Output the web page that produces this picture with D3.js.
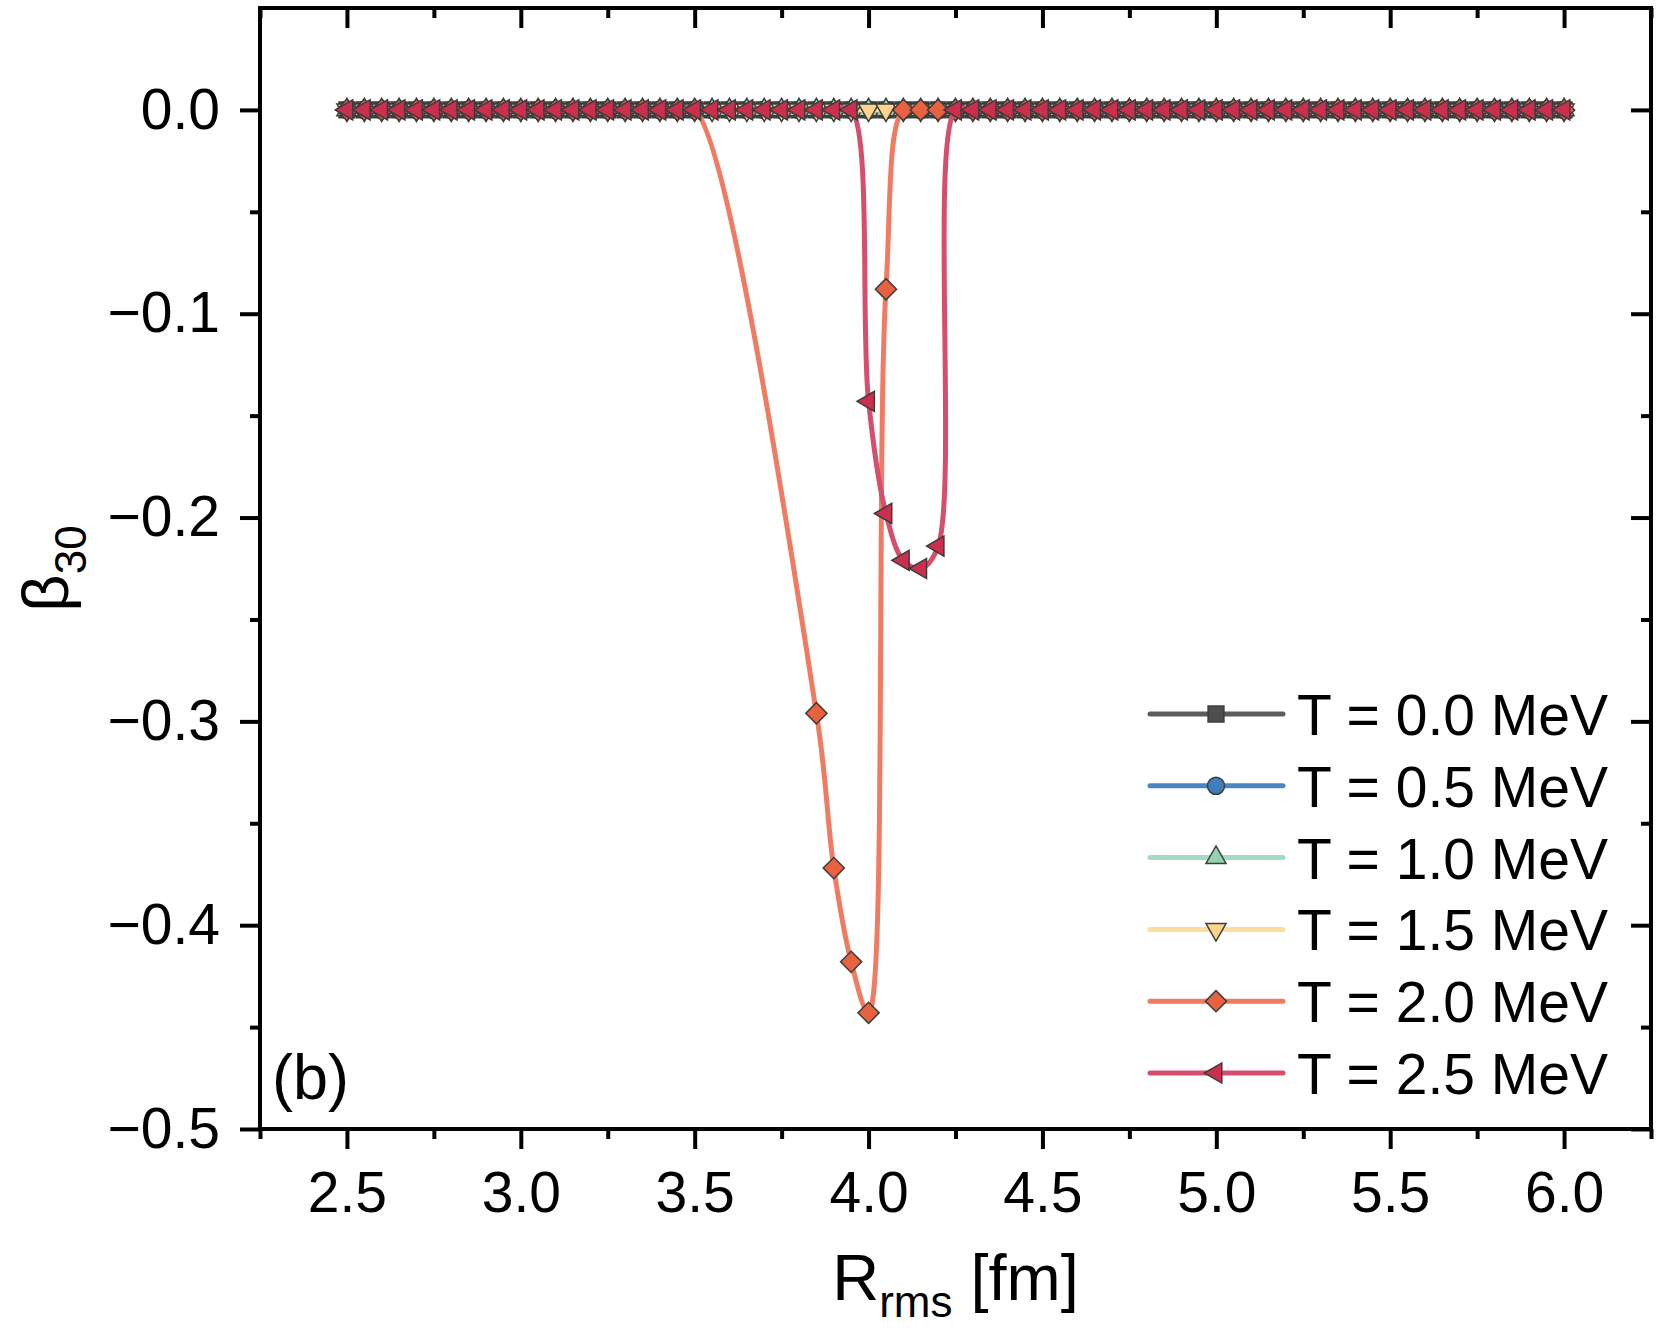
<!DOCTYPE html>
<html>
<head>
<meta charset="utf-8">
<script src="https://cdn.jsdelivr.net/npm/d3@7"></script>
<style>
  body { margin: 0; background: #fff; }
  svg { display: block; font-family: "Liberation Sans", Arial, Helvetica, sans-serif; }
</style>
</head>
<body>
<div id="chart"></div>
<script>
// R_rms grid [fm]
var rms = [
  2.50, 2.55, 2.60, 2.65, 2.70, 2.75, 2.80, 2.85, 2.90, 2.95,
  3.00, 3.05, 3.10, 3.15, 3.20, 3.25, 3.30, 3.35, 3.40, 3.45,
  3.50, 3.55, 3.60, 3.65, 3.70, 3.75, 3.80, 3.85, 3.90, 3.95,
  4.00, 4.05, 4.10, 4.15, 4.20, 4.25, 4.30, 4.35, 4.40, 4.45,
  4.50, 4.55, 4.60, 4.65, 4.70, 4.75, 4.80, 4.85, 4.90, 4.95,
  5.00, 5.05, 5.10, 5.15, 5.20, 5.25, 5.30, 5.35, 5.40, 5.45,
  5.50, 5.55, 5.60, 5.65, 5.70, 5.75, 5.80, 5.85, 5.90, 5.95,
  6.00
];

// beta_30 for each temperature (null = no point)
var betaT00 = [
  0, 0, 0, 0, 0, 0, 0, 0, 0, 0,
  0, 0, 0, 0, 0, 0, 0, 0, 0, 0,
  0, 0, 0, 0, 0, 0, 0, 0, 0, 0,
  0, 0, 0, 0, 0, 0, 0, 0, 0, 0,
  0, 0, 0, 0, 0, 0, 0, 0, 0, 0,
  0, 0, 0, 0, 0, 0, 0, 0, 0, 0,
  0, 0, 0, 0, 0, 0, 0, 0, 0, 0,
  0
];
var betaT05 = [
  0, 0, 0, 0, 0, 0, 0, 0, 0, 0,
  0, 0, 0, 0, 0, 0, 0, 0, 0, 0,
  0, 0, 0, 0, 0, 0, 0, 0, 0, 0,
  0, 0, 0, 0, 0, 0, 0, 0, 0, 0,
  0, 0, 0, 0, 0, 0, 0, 0, 0, 0,
  0, 0, 0, 0, 0, 0, 0, 0, 0, 0,
  0, 0, 0, 0, 0, 0, 0, 0, 0, 0,
  0
];
var betaT10 = [
  0, 0, 0, 0, 0, 0, 0, 0, 0, 0,
  0, 0, 0, 0, 0, 0, 0, 0, 0, 0,
  0, 0, 0, 0, 0, 0, 0, 0, 0, 0,
  0, 0, 0, 0, 0, 0, 0, 0, 0, 0,
  0, 0, 0, 0, 0, 0, 0, 0, 0, 0,
  0, 0, 0, 0, 0, 0, 0, 0, 0, 0,
  0, 0, 0, 0, 0, 0, 0, 0, 0, 0,
  0
];
var betaT15 = [
  0, 0, 0, 0, 0, 0, 0, 0, 0, 0,
  0, 0, 0, 0, 0, 0, 0, 0, 0, 0,
  0, 0, 0, 0, 0, 0, 0, 0, 0, 0,
  0, 0, 0, 0, 0, 0, 0, 0, 0, 0,
  0, 0, 0, 0, 0, 0, 0, 0, 0, 0,
  0, 0, 0, 0, 0, 0, 0, 0, 0, 0,
  0, 0, 0, 0, 0, 0, 0, 0, 0, 0,
  0
];
var betaT20 = [
  0, 0, 0, 0, 0, 0, 0, 0, 0, 0,
  0, 0, 0, 0, 0, 0, 0, 0, 0, 0,
  0, null, null, null, null, null, null, -0.296, -0.372, -0.418,
  -0.443, -0.088, 0, 0, 0, 0, 0, 0, 0, 0,
  0, 0, 0, 0, 0, 0, 0, 0, 0, 0,
  0, 0, 0, 0, 0, 0, 0, 0, 0, 0,
  0, 0, 0, 0, 0, 0, 0, 0, 0, 0,
  0
];
var betaT25 = [
  0, 0, 0, 0, 0, 0, 0, 0, 0, 0,
  0, 0, 0, 0, 0, 0, 0, 0, 0, 0,
  0, 0, 0, 0, 0, 0, 0, 0, 0, 0,
  -0.143, -0.198, -0.221, -0.225, -0.214, 0, 0, 0, 0, 0,
  0, 0, 0, 0, 0, 0, 0, 0, 0, 0,
  0, 0, 0, 0, 0, 0, 0, 0, 0, 0,
  0, 0, 0, 0, 0, 0, 0, 0, 0, 0,
  0
];

var seriesNames = ["T = 0.0 MeV", "T = 0.5 MeV", "T = 1.0 MeV", "T = 1.5 MeV", "T = 2.0 MeV", "T = 2.5 MeV"];
var xTicks = [2.5, 3.0, 3.5, 4.0, 4.5, 5.0, 5.5, 6.0];
var xMinor = [2.25, 2.75, 3.25, 3.75, 4.25, 4.75, 5.25, 5.75, 6.25];
var yTicks = [0.0, -0.1, -0.2, -0.3, -0.4, -0.5];
var yMinor = [-0.05, -0.15, -0.25, -0.35, -0.45];

var series = [
  {name: seriesNames[0], values: betaT00, line: "#5c5c5c", fill: "#4e4e4e", shape: "square"},
  {name: seriesNames[1], values: betaT05, line: "#4a86c2", fill: "#3f7ebd", shape: "circle"},
  {name: seriesNames[2], values: betaT10, line: "#a5dcc1", fill: "#93d1b0", shape: "triUp"},
  {name: seriesNames[3], values: betaT15, line: "#fddd9e", fill: "#fdd48b", shape: "triDown"},
  {name: seriesNames[4], values: betaT20, line: "#f07b62", fill: "#e9613f", shape: "diamond"},
  {name: seriesNames[5], values: betaT25, line: "#d54e6b", fill: "#cc2f4e", shape: "triLeft"}
];

var width = 1661, height = 1333;
var margin = {top: 8, right: 10, bottom: 204, left: 260};
var innerW = width - margin.left - margin.right;
var innerH = height - margin.top - margin.bottom;

var x = d3.scaleLinear().domain([2.25, 6.25]).range([0, innerW]);
var y = d3.scaleLinear().domain([-0.5, 0.05]).range([innerH, 0]);

var svg = d3.select("#chart").append("svg")
    .attr("width", width)
    .attr("height", height);

var g = svg.append("g")
    .attr("transform", "translate(" + margin.left + "," + margin.top + ")");

// marker shapes
function symbolPath(shape) {
  if (shape === "square") return d3.symbol(d3.symbolSquare, 250)();
  if (shape === "circle") return d3.symbol(d3.symbolCircle, 230)();
  if (shape === "diamond") return d3.symbol(d3.symbolSquare, 225)();
  return d3.symbol(d3.symbolTriangle, 175)();
}
function symbolRotate(shape) {
  if (shape === "diamond") return 45;
  if (shape === "triDown") return 180;
  if (shape === "triLeft") return -90;
  return 0;
}

var line = d3.line()
    .x(function(d) { return x(d[0]); })
    .y(function(d) { return y(d[1]); })
    .curve(d3.curveCatmullRom.alpha(0.5));

series.forEach(function(s) {
  var pts = rms.map(function(r, i) { return [r, s.values[i]]; })
      .filter(function(d) { return d[1] !== null; });

  g.append("path")
      .datum(pts)
      .attr("fill", "none")
      .attr("stroke", s.line)
      .attr("stroke-width", 5)
      .attr("stroke-linejoin", "round")
      .attr("d", line);

  g.append("g").selectAll("path")
      .data(pts)
      .enter()
      .append("path")
      .attr("d", symbolPath(s.shape))
      .attr("transform", function(d) {
        return "translate(" + x(d[0]) + "," + y(d[1]) + ") rotate(" + symbolRotate(s.shape) + ")";
      })
      .attr("fill", s.fill)
      .attr("stroke", "#3d3d3d")
      .attr("stroke-width", 1.5);
});

// axes
function styleAxis(sel) {
  sel.select(".domain").remove();
  sel.selectAll(".tick line").attr("stroke", "#000").attr("stroke-width", 4);
  sel.selectAll(".tick text").attr("fill", "#000").attr("font-size", 57)
      .attr("font-family", "Liberation Sans, Arial, sans-serif");
}

g.append("g")
    .attr("transform", "translate(0," + innerH + ")")
    .call(d3.axisBottom(x).tickValues(xTicks).tickSize(20).tickPadding(23).tickFormat(d3.format(".1f")))
    .call(styleAxis);
g.append("g")
    .attr("transform", "translate(0," + innerH + ")")
    .call(d3.axisBottom(x).tickValues(xMinor).tickSize(10).tickFormat(""))
    .call(styleAxis);
g.append("g")
    .call(d3.axisTop(x).tickValues(xTicks).tickSize(-20).tickFormat(""))
    .call(styleAxis);
g.append("g")
    .call(d3.axisTop(x).tickValues(xMinor).tickSize(-10).tickFormat(""))
    .call(styleAxis);

g.append("g")
    .call(d3.axisLeft(y).tickValues(yTicks).tickSize(20).tickPadding(20).tickFormat(d3.format(".1f")))
    .call(styleAxis);
g.append("g")
    .call(d3.axisLeft(y).tickValues(yMinor).tickSize(10).tickFormat(""))
    .call(styleAxis);
g.append("g")
    .attr("transform", "translate(" + innerW + ",0)")
    .call(d3.axisRight(y).tickValues(yTicks).tickSize(-20).tickFormat(""))
    .call(styleAxis);
g.append("g")
    .attr("transform", "translate(" + innerW + ",0)")
    .call(d3.axisRight(y).tickValues(yMinor).tickSize(-10).tickFormat(""))
    .call(styleAxis);

// frame
g.append("rect")
    .attr("width", innerW)
    .attr("height", innerH)
    .attr("fill", "none")
    .attr("stroke", "#000")
    .attr("stroke-width", 4);

// axis titles
var xt = svg.append("text")
    .attr("x", margin.left + innerW / 2)
    .attr("y", 1300)
    .attr("text-anchor", "middle")
    .attr("font-size", 65)
    .attr("fill", "#000");
xt.append("tspan").text("R");
xt.append("tspan").attr("font-size", 44).attr("dy", 17).text("rms");
xt.append("tspan").attr("dy", -17).text(" [fm]");

var yt = svg.append("text")
    .attr("transform", "translate(68," + (margin.top + innerH / 2) + ") rotate(-90)")
    .attr("text-anchor", "middle")
    .attr("font-size", 65)
    .attr("fill", "#000");
yt.append("tspan").text("β");
yt.append("tspan").attr("font-size", 44).attr("dy", 18).text("30");

// panel label
svg.append("text")
    .attr("x", 272)
    .attr("y", 1099)
    .attr("font-size", 63)
    .attr("fill", "#000")
    .text("(b)");

// legend
var legend = svg.append("g").attr("transform", "translate(1150,714)");
var rowH = 71.8;
series.forEach(function(s, i) {
  var row = legend.append("g").attr("transform", "translate(0," + (i * rowH) + ")");
  row.append("line")
      .attr("x1", 0).attr("x2", 133)
      .attr("y1", 0).attr("y2", 0)
      .attr("stroke", s.line)
      .attr("stroke-width", 5)
      .attr("stroke-linecap", "round");
  row.append("path")
      .attr("d", symbolPath(s.shape))
      .attr("transform", "translate(66,0) rotate(" + symbolRotate(s.shape) + ")")
      .attr("fill", s.fill)
      .attr("stroke", "#3d3d3d")
      .attr("stroke-width", 1.5);
  row.append("text")
      .attr("x", 147)
      .attr("y", 21)
      .attr("font-size", 57)
      .attr("fill", "#000")
      .text(s.name);
});
</script>
</body>
</html>
